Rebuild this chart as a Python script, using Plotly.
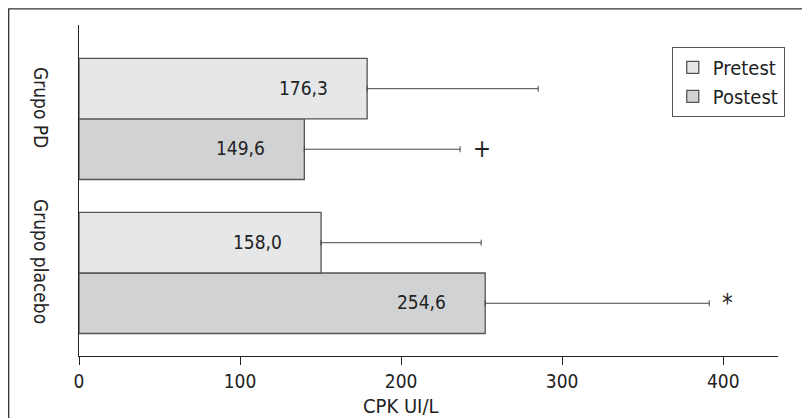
import plotly.graph_objects as go

categories = ["Grupo placebo", "Grupo PD"]
series_names = ["Pretest", "Postest"]
pretest_values = [150.3, 178.9]
postest_values = [252.2, 139.9]
pretest_labels = ["158,0", "176,3"]
postest_labels = ["254,6", "149,6"]
pretest_err = [99.4, 106.2]
postest_err = [139.1, 96.7]
pretest_marks = ["", ""]
postest_marks = ["*", "+"]
x_ticks = [0, 100, 200, 300, 400]
x_title = "CPK UI/L"

FONT = "Liberation Sans Narrow, DejaVu Sans Condensed, Roboto, sans-serif"
colors = {"Pretest": "#e6e7e8", "Postest": "#d1d2d4"}

fig = go.Figure()
data = {
    "Pretest": (pretest_values, pretest_err),
    "Postest": (postest_values, postest_err),
}
for name in ["Postest", "Pretest"]:
    vals, err = data[name]
    fig.add_trace(go.Bar(
        name=name, y=categories, x=vals, orientation="h",
        marker=dict(color=colors[name], line=dict(color="#555555", width=1.3)),
        error_x=dict(type="data", array=err, arrayminus=[0] * len(err), symmetric=False,
                     color="#444444", thickness=1, width=3),
    ))

annotations = []
for labels, vals, errs, marks, shift in [
    (pretest_labels, pretest_values, pretest_err, pretest_marks, 30),
    (postest_labels, postest_values, postest_err, postest_marks, -30),
]:
    for cat, lab, v, e, m in zip(categories, labels, vals, errs, marks):
        annotations.append(dict(x=v, y=cat, text=lab, showarrow=False, xanchor="right",
                                xshift=-37, yshift=shift + 1,
                                font=dict(family=FONT, size=19, color="#222")))
        if m:
            annotations.append(dict(x=v + e, y=cat, text=m, showarrow=False, xanchor="left",
                                    xshift=11, yshift=shift,
                                    font=dict(family=FONT, size=24, color="#222")))

for cat in categories:
    annotations.append(dict(x=0, xref="paper", y=cat, text=cat, showarrow=False,
                            textangle=90, xanchor="center", yanchor="middle",
                            xshift=-38, yshift=12,
                            font=dict(family=FONT, size=19, color="#222")))

annotations.append(dict(x=200, y=0, yref="paper", text=x_title, showarrow=False,
                        yanchor="top", yshift=-36,
                        font=dict(family=FONT, size=20, color="#222")))

# the page body adds an 8px offset; compensate so the plot area lands where the reference has it
fig.update_layout(
    width=802, height=410,
    margin=dict(l=71, r=32, t=17, b=62, autoexpand=False),
    paper_bgcolor="white", plot_bgcolor="white",
    barmode="group", bargap=0.214, bargroupgap=0,
    font=dict(family=FONT, size=19, color="#222"),
    showlegend=True,
    legend=dict(x=0.848, y=0.934, xanchor="left", yanchor="top", traceorder="reversed",
                bordercolor="#555555", borderwidth=1, bgcolor="white",
                font=dict(family=FONT, size=20, color="#222"),
                itemwidth=30, tracegroupgap=2),
    xaxis=dict(range=[0, 434], tickvals=x_ticks, ticks="outside", ticklen=8,
               tickcolor="#222", showline=True, linecolor="#222", linewidth=1,
               showgrid=False, zeroline=False, automargin=False,
               tickfont=dict(family=FONT, size=19, color="#222")),
    yaxis=dict(categoryorder="array", categoryarray=categories, range=[-0.539, 1.61],
               showline=True, linecolor="#222", linewidth=1, showticklabels=False,
               ticks="", showgrid=False, zeroline=False, automargin=False),
    annotations=annotations,
    shapes=[dict(type="rect", xref="paper", yref="paper", x0=-0.1006, x1=1.2,
                 y0=-0.5, y1=1.049, line=dict(color="#333333", width=1.3),
                 fillcolor="rgba(0,0,0,0)", layer="below")],
)

fig.write_html("out.html")
